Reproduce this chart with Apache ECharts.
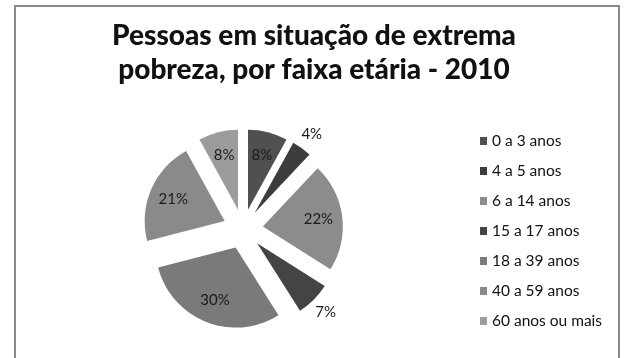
<!DOCTYPE html>
<html>
<head>
<meta charset="utf-8">
<script src="https://cdn.jsdelivr.net/npm/echarts@6/dist/echarts.min.js"></script>
<style>
  html, body { margin: 0; padding: 0; background: #fff; }
  #chart { width: 625px; height: 358px; }
</style>
</head>
<body>
<div id="chart"></div>
<script>
// Faixas etárias e participação (%) de cada uma no total
const faixas = ['0 a 3 anos', '4 a 5 anos', '6 a 14 anos', '15 a 17 anos', '18 a 39 anos', '40 a 59 anos', '60 anos ou mais'];
const percentuais = [8, 4, 22, 7, 30, 21, 8];
const cores = ['#505050', '#3c3c3c', '#8c8c8c', '#444444', '#7a7a7a', '#8a8a8a', '#9c9c9c'];
const titulo = 'Pessoas em situação de extrema\npobreza, por faixa etária - 2010';

const CX = 243, CY = 229, R = 80, EXPLODE = 20;
const FONT = 'Lato, "Open Sans", sans-serif';

const chart = echarts.init(document.getElementById('chart'));

chart.setOption({
  backgroundColor: '#ffffff',
  animation: false,
  title: {
    text: titulo,
    left: 309,
    textAlign: 'center',
    top: 14,
    textStyle: { fontFamily: FONT, fontWeight: 900, fontSize: 28, lineHeight: 34, color: '#111' }
  },
  legend: {
    orient: 'vertical',
    left: 475,
    top: 127,
    itemWidth: 7,
    itemHeight: 8,
    itemGap: 12,
    icon: 'rect',
    textStyle: { fontFamily: FONT, fontSize: 15.5, lineHeight: 18, color: '#111' },
    data: faixas
  },
  graphic: [{
    type: 'rect',
    shape: { x: 15, y: 6, width: 604, height: 400 },
    style: { fill: null, stroke: '#8a8a8a', lineWidth: 2 },
    silent: true
  }],
  series: [{
    type: 'pie',
    center: [CX, CY],
    radius: [0, R],
    startAngle: 90,
    clockwise: true,
    selectedMode: 'multiple',
    selectedOffset: EXPLODE,
    avoidLabelOverlap: false,
    itemStyle: { borderWidth: 0 },
    label: {
      show: true,
      position: 'inside',
      formatter: '{c}%',
      fontFamily: FONT,
      fontSize: 15,
      color: '#1a1a1a'
    },
    labelLine: { show: false },
    emphasis: { disabled: true },
    // Slide each label along its slice's mid-angle (the explode offset is added afterwards):
    // large slices keep the label inside near the rim, small ones sit just outside
    labelLayout: function (p) {
      const v = percentuais[p.dataIndex];
      const lx = p.labelRect.x + p.labelRect.width / 2;
      const ly = p.labelRect.y + p.labelRect.height / 2;
      const vx = lx - CX, vy = ly - CY;
      const d = Math.sqrt(vx * vx + vy * vy);
      const target = v < 8 ? R + 17 : R * 0.7;
      const k = target / d - 1;
      return { dx: vx * k, dy: vy * k };
    },
    data: faixas.map((n, i) => ({
      name: n,
      value: percentuais[i],
      selected: true,
      itemStyle: { color: cores[i] }
    }))
  }]
});
</script>
</body>
</html>
